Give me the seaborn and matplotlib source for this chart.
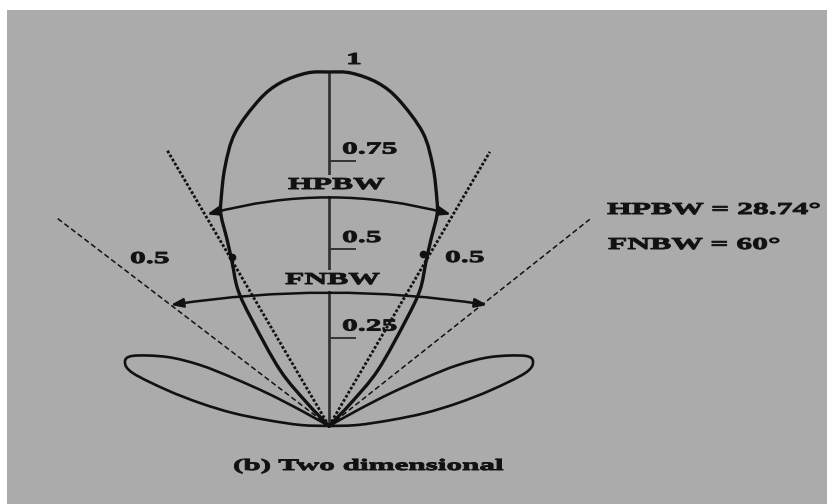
import numpy as np
import matplotlib
matplotlib.use("Agg")
import matplotlib.pyplot as plt
import seaborn as sns
from matplotlib.path import Path
from matplotlib.patches import PathPatch
from matplotlib.patheffects import AbstractPathEffect
from matplotlib.transforms import Affine2D

# ---- pattern data (angle from boresight in degrees, normalised field level) ----
main_angle = [0, 3.6, 8.1, 12.1, 17.8, 21.9, 25.5, 27.1, 28.7, 30.6, 33.8, 36.0, 41.2, 43.7, 45.0]
main_level = [1.0, 0.999, 0.979, 0.942, 0.869, 0.788, 0.708, 0.67, 0.599, 0.538, 0.462, 0.37, 0.21, 0.09, 0.0]

side_angle = [60, 61, 62, 63.4, 64.7, 66.9, 70.3, 72.6, 74.9, 77.5, 79.9, 82.3, 84.5, 88, 90]
side_level = [0, 0.094, 0.198, 0.303, 0.403, 0.497, 0.588, 0.604, 0.574, 0.469, 0.37, 0.274, 0.176, 0.08, 0]

# boresight scale
tick_levels = [0.25, 0.5, 0.75]
tick_labels = ["0.25", "0.5", "0.75"]
peak_level = 1.0
peak_label = "1"

# guide lines: (angle, length) on the left and right
hp_line_angle = [30.4, 30.4]
hp_line_len = [0.904, 0.898]
null_line_angle = [52.6, 51.6]
null_line_len = [0.97, 0.94]

# half-power points on the main lobe
hp_point_angle = [29.8, 28.6]
hp_point_level = [0.55, 0.555]
hp_point_label = "0.5"

# beamwidth arcs: end angle, radius, bulge
hpbw_arc = dict(angle=30.0, radius=0.69, rad=-0.136)
fnbw_arc = dict(angle=52.6, radius=0.563, rad=-0.076)

hpbw_value = 28.74
fnbw_value = 60
caption = "(b) Two dimensional"

BG = "#ababab"
INK = "#111111"
AXIS = "#333333"

sns.set_theme(style="white")
plt.rcParams["font.family"] = ["Liberation Serif", "DejaVu Serif"]
plt.rcParams["font.weight"] = "bold"

W, H, DPI = 828, 504, 100
SCALE = 354.0           # pixels per unit level
ORIGIN = (329.0, 426.0)  # pixel position of the pattern origin
LEFT_MARGIN, TOP_MARGIN = 7, 10

fig = plt.figure(figsize=(W / DPI, H / DPI), dpi=DPI, facecolor="white")
ax = fig.add_axes([LEFT_MARGIN / W, 0, (W - LEFT_MARGIN) / W, (H - TOP_MARGIN) / H])
ax.set_facecolor(BG)
ax.set_xlim((LEFT_MARGIN - ORIGIN[0]) / SCALE, (W - ORIGIN[0]) / SCALE)
ax.set_ylim((ORIGIN[1] - H) / SCALE, (ORIGIN[1] - TOP_MARGIN) / SCALE)
ax.set_xticks([])
ax.set_yticks([])
for s in ax.spines.values():
    s.set_visible(False)


def polar_xy(angle_deg, level):
    a = np.radians(np.asarray(angle_deg, dtype=float))
    r = np.asarray(level, dtype=float)
    return r * np.sin(a), r * np.cos(a)


def smooth_path(xs, ys):
    pts = np.column_stack([xs, ys])
    ext = np.vstack([pts[0], pts, pts[-1]])
    verts = [pts[0]]
    codes = [Path.MOVETO]
    for i in range(1, len(ext) - 2):
        p0, p1, p2, p3 = ext[i - 1], ext[i], ext[i + 1], ext[i + 2]
        verts += [p1 + (p2 - p0) / 6.0, p2 - (p3 - p1) / 6.0, p2]
        codes += [Path.CURVE4] * 3
    return Path(verts, codes)


class Widen(AbstractPathEffect):
    """Draw text glyphs widened horizontally about their left edge, slightly emboldened."""

    def __init__(self, sx, stroke=0.7):
        super().__init__()
        self.sx = sx
        self.stroke = stroke

    def draw_path(self, renderer, gc, tpath, affine, rgbFace=None):
        x0 = affine.get_matrix()[0, 2]
        widen = Affine2D().translate(-x0, 0).scale(self.sx, 1.0).translate(x0, 0)
        gc0 = renderer.new_gc()
        gc0.copy_properties(gc)
        gc0.set_linewidth(self.stroke)
        gc0.set_foreground(rgbFace)
        gc0.set_joinstyle("round")
        renderer.draw_path(gc0, tpath, affine + widen, rgbFace)
        gc0.restore()


def px(x, y):
    return (x - ORIGIN[0]) / SCALE, (ORIGIN[1] - y) / SCALE


FS = 12
SX = 1.9


def label(x, y, s, box=False, fs=FS, sx=SX, z=3):
    kw = {}
    if box:
        kw["bbox"] = dict(boxstyle="square,pad=0.15", fc=BG, ec="none")
    ax.text(x, y, s, fontsize=fs, fontweight="bold", color=INK, ha="left",
            va="baseline", zorder=z, path_effects=[Widen(sx)], **kw)


# boresight axis and ticks
sns.lineplot(x=[0, 0], y=[0, peak_level], color=AXIS, lw=2.0, ax=ax,
             estimator=None, sort=False, legend=False, zorder=2)
tick_len = 27 / SCALE
for lv, tl in zip(tick_levels, tick_labels):
    ax.plot([0, tick_len], [lv, lv], color=AXIS, lw=1.4, zorder=2,
            solid_capstyle="butt")
    label(13 / SCALE, lv + 7 / SCALE, tl)
label(17 / SCALE, peak_level + 8 / SCALE, peak_label)

# guide lines
for side, sign in ((0, -1), (1, 1)):
    hx, hy = polar_xy(sign * hp_line_angle[side], hp_line_len[side])
    sns.lineplot(x=[0, hx], y=[0, hy], color=INK, lw=2.0, ax=ax, estimator=None,
                 sort=False, legend=False, linestyle=(0, (1.0, 0.7)), zorder=3)
    nx, ny = polar_xy(sign * null_line_angle[side], null_line_len[side])
    sns.lineplot(x=[0, nx], y=[0, ny], color=INK, lw=1.1, ax=ax, estimator=None,
                 sort=False, legend=False, linestyle=(0, (3.5, 2.0)), zorder=3)

# main lobe
full_angle = [-a for a in main_angle[::-1]] + main_angle[1:]
full_level = main_level[::-1] + main_level[1:]
mx, my = polar_xy(full_angle, full_level)
ax.add_patch(PathPatch(smooth_path(mx, my), fc="none", ec=INK, lw=2.4,
                       zorder=4, capstyle="round", joinstyle="round"))

# side lobes
for sign in (-1, 1):
    sx_, sy_ = polar_xy([sign * a for a in side_angle], side_level)
    ax.add_patch(PathPatch(smooth_path(sx_, sy_), fc="none", ec=INK, lw=1.9,
                           zorder=4, joinstyle="round"))

# half-power points
for side, sign in ((0, -1), (1, 1)):
    hx, hy = polar_xy(sign * hp_point_angle[side], hp_point_level[side])
    ax.plot([hx], [hy], marker="o", ms=4.5, color=INK, zorder=5, ls="none")
label(*px(130, 263), hp_point_label)
label(*px(445, 262), hp_point_label)

# beamwidth arcs with arrowheads
for arc in (hpbw_arc, fnbw_arc):
    lx, ly = polar_xy(-arc["angle"], arc["radius"])
    rx, ry = polar_xy(arc["angle"], arc["radius"])
    ax.annotate("", xy=(rx, ry), xytext=(lx, ly), zorder=5,
                arrowprops=dict(arrowstyle="<|-|>,head_length=0.6,head_width=0.22",
                                connectionstyle="arc3,rad=%g" % arc["rad"],
                                color=INK, lw=1.8, shrinkA=0, shrinkB=0,
                                mutation_scale=12))

label(*px(288, 189), "HPBW", box=True)
label(*px(285, 284), "FNBW", box=True)

# summary and caption
label(*px(607, 214), "HPBW = %.2f\u00b0" % hpbw_value)
label(*px(608, 249), "FNBW = %d\u00b0" % fnbw_value)
label(*px(233, 470), caption, fs=11.5, sx=1.95)

fig.savefig("out.png", dpi=DPI, facecolor=fig.get_facecolor())
